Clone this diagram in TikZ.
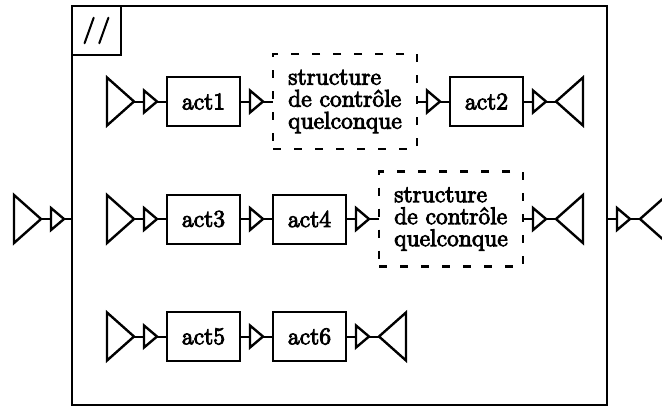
\documentclass[tikz,border=0pt]{standalone}
\usepackage{fontspec}
\setmainfont[FakeBold=4]{Latin Modern Roman}
\usepackage{tikz}
\usetikzlibrary{positioning,shapes.geometric}

\tikzset{
  act/.style={draw,line width=1pt,minimum width=36.5pt,minimum height=24.5pt,inner sep=0pt,outer sep=0pt},
  ctrl/.style={draw,line width=1.1pt,dash pattern=on 4pt off 6.5pt,minimum width=72pt,minimum height=47.5pt,inner sep=0pt,outer sep=0pt,align=left},
  bigin/.style={draw,isosceles triangle,isosceles triangle stretches,line width=1.2pt,inner sep=0pt,outer sep=0pt,minimum height=13.5pt,minimum width=24pt},
  bigout/.style={bigin,shape border rotate=180},
  portin/.style={bigin,minimum height=6.5pt,minimum width=11pt}
}

\begin{document}
\begin{tikzpicture}[node distance=5pt,font=\fontsize{12}{11}\selectfont,line width=1pt]
\useasboundingbox (0,0) rectangle (331pt,-203.5pt);
% the parallel block
\node[draw,minimum width=267.5pt,minimum height=199.5pt,inner sep=0pt,outer sep=0pt] (par) at (169.75pt,-102.75pt) {};
\node[draw,anchor=north west,minimum size=24.5pt,inner sep=0pt,outer sep=0pt] (lbl) at (par.north west) {\fontsize{13}{13}\selectfont/\kern1pt/};

% first branch
\node[bigin,anchor=west] (in1) at (53.5pt,-50.75pt) {};
\node[portin,right=of in1] (p1a) {};
\node[act,right=of p1a] (act1) {act1};
\node[portin,right=of act1] (p1b) {};
\node[ctrl,right=of p1b] (ctl1) {structure\\de contrôle\\quelconque};
\node[portin,right=of ctl1] (p1c) {};
\node[act,right=of p1c] (act2) {act2};
\node[portin,right=of act2] (p1d) {};
\node[bigout,right=of p1d] (out1) {};
\draw (in1)--(p1a) (p1a)--(act1) (act1)--(p1b) (p1b)--(ctl1) (ctl1)--(p1c)
(p1c)--(act2) (act2)--(p1d) (p1d)--(out1);

% second branch
\node[bigin,anchor=west] (in2) at (53.5pt,-109.5pt) {};
\node[portin,right=of in2] (p2a) {};
\node[act,right=of p2a] (act3) {act3};
\node[portin,right=of act3] (p2b) {};
\node[act,right=of p2b] (act4) {act4};
\node[portin,right=of act4] (p2c) {};
\node[ctrl,right=of p2c] (ctl2) {structure\\de contrôle\\quelconque};
\node[portin,right=of ctl2] (p2d) {};
\node[bigout,right=of p2d] (out2) {};
\draw (in2)--(p2a) (p2a)--(act3) (act3)--(p2b) (p2b)--(act4) (act4)--(p2c)
(p2c)--(ctl2) (ctl2)--(p2d) (p2d)--(out2);

% third branch
\node[bigin,anchor=west] (in3) at (53.5pt,-168.25pt) {};
\node[portin,right=of in3] (p3a) {};
\node[act,right=of p3a] (act5) {act5};
\node[portin,right=of act5] (p3b) {};
\node[act,right=of p3b] (act6) {act6};
\node[portin,right=of act6] (p3c) {};
\node[bigout,right=of p3c] (out3) {};
\draw (in3)--(p3a) (p3a)--(act5) (act5)--(p3b) (p3b)--(act6) (act6)--(p3c) (p3c)--(out3);

% entry and exit of the whole block
\node[bigin,anchor=west] (pin) at (7pt,-109.5pt) {};
\node[portin,right=of pin] (ppin) {};
\coordinate (pl) at (par.west |- pin);
\coordinate (pr) at (par.east |- pin);
\node[portin,right=of pr] (ppout) {};
\node[bigout,right=of ppout] (pout) {};
\draw (pin)--(ppin) (ppin)--(pl) (pr)--(ppout) (ppout)--(pout);
\end{tikzpicture}
\end{document}
